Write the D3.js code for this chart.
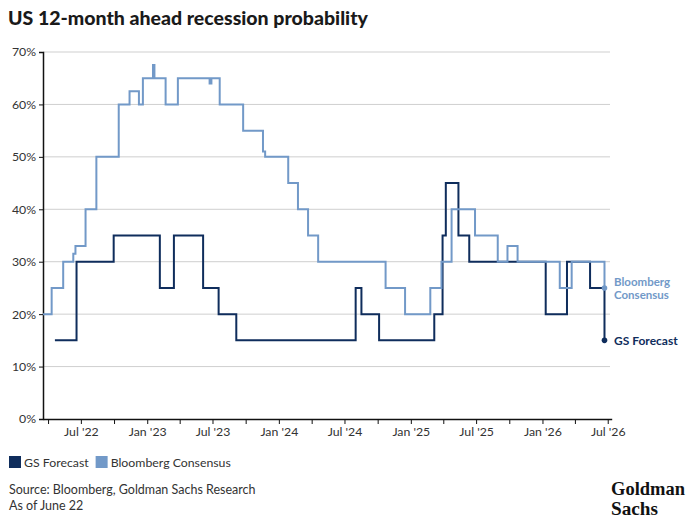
<!DOCTYPE html>
<html>
<head>
<meta charset="utf-8">
<script src="https://cdn.jsdelivr.net/npm/d3@7"></script>
<style>
  html, body { margin: 0; padding: 0; background: #fff; }
  svg { display: block; }
  text { font-family: Lato, "Open Sans", sans-serif; }
</style>
</head>
<body>
<svg id="chart" width="695" height="521"></svg>
<script>
// ---------- DATA ----------
const gsDates = ["2022-04-20","2022-06-19","2022-09-30","2023-02-05","2023-03-16","2023-06-05","2023-07-18","2023-09-05",
  "2024-08-01","2024-08-17","2024-10-05","2025-03-07","2025-03-30","2025-04-08","2025-05-13","2025-06-12",
  "2026-01-10","2026-03-10","2026-05-13","2026-06-22"];
const gsValues = [15,30,35,25,35,25,20,15,
  25,20,15,20,35,45,35,30,
  20,30,25,15];

const bbgDates = ["2022-03-18","2022-04-11","2022-05-13","2022-06-10","2022-06-16","2022-07-14","2022-08-13","2022-10-14",
  "2022-11-13","2022-12-09","2022-12-20","2023-01-17","2023-01-21","2023-02-21","2023-03-27","2023-06-23","2023-06-28",
  "2023-07-21","2023-09-24","2023-11-18","2023-11-24","2024-01-27","2024-02-23","2024-03-22","2024-04-19",
  "2024-10-23","2024-12-16","2025-02-24","2025-03-27","2025-04-24","2025-06-28","2025-08-30","2025-09-26",
  "2025-10-24","2026-02-18","2026-03-23","2026-06-22"];
const bbgValues = [20,25,30,31.5,33,40,50,60,
  62.5,60,65,67.5,65,60,65,64,65,
  60,55,51,50,45,40,35,30,
  25,20,25,30,40,35,30,33,
  30,25,30,25];

const yTicks = [0,10,20,30,40,50,60,70];
const seriesNames = ["GS Forecast","Bloomberg Consensus"];
const endLabels = [["GS Forecast"],["Bloomberg","Consensus"]];
const titleText = "US 12-month ahead recession probability";
const sourceLines = ["Source: Bloomberg, Goldman Sachs Research","As of June 22"];
const logoLines = ["Goldman","Sachs"];

// ---------- STYLE ----------
const colors = ["#0f2d5c", "#7299c8"];
const parse = d3.timeParse("%Y-%m-%d");

const svg = d3.select("#chart");
const x = d3.scaleTime()
  .domain([parse("2022-03-18"), parse("2026-07-12")])
  .range([43, 611.7]);
const y = d3.scaleLinear().domain([0,70]).range([419, 52]);

// title
svg.append("text").attr("x", 8).attr("y", 25)
  .attr("font-size", 19.5).attr("font-weight", 900).attr("fill", "#1a1a1a")
  .text(titleText);

// gridlines
svg.append("g").selectAll("line").data(yTicks.filter(d => d > 0)).join("line")
  .attr("x1", 43).attr("x2", 610)
  .attr("y1", d => y(d)).attr("y2", d => y(d))
  .attr("stroke", "#cfcfcf").attr("stroke-width", 1);

// y axis
const yAxis = d3.axisLeft(y).tickValues(yTicks).tickSize(4).tickFormat(d => d + "%");
const gy = svg.append("g").attr("transform", "translate(43,0)").call(yAxis);
gy.select(".domain").attr("stroke", "#111").attr("stroke-width", 1.5);
gy.selectAll(".tick line").attr("stroke", "#111");
gy.selectAll(".tick text").attr("font-size", 12.3).attr("fill", "#333").attr("x", -7);

// x axis
const quarterTicks = d3.timeMonth.every(3).range(parse("2022-04-01"), parse("2026-07-02"));
const fmt = d3.timeFormat("%b '%y");
const xAxis = d3.axisBottom(x).tickValues(quarterTicks).tickSize(5).tickSizeOuter(0)
  .tickFormat(d => (d.getMonth() === 0 || d.getMonth() === 6) ? fmt(d) : "");
const gx = svg.append("g").attr("transform", "translate(0,419)").call(xAxis);
gx.select(".domain").attr("stroke", "#111").attr("stroke-width", 1.5);
gx.selectAll(".tick line").attr("stroke", "#111");
gx.selectAll(".tick text").attr("font-size", 12.3).attr("fill", "#333").attr("y", 8);

// lines
const series = [
  gsDates.map((d,i) => ({date: parse(d), value: gsValues[i]})),
  bbgDates.map((d,i) => ({date: parse(d), value: bbgValues[i]}))
];
const line = d3.line().x(d => x(d.date)).y(d => y(d.value)).curve(d3.curveStepAfter);
series.forEach((s, i) => {
  svg.append("path").datum(s).attr("d", line)
    .attr("fill", "none").attr("stroke", colors[i]).attr("stroke-width", 2)
    .attr("stroke-linejoin", "miter");
  const last = s[s.length - 1];
  svg.append("circle").attr("cx", x(last.date)).attr("cy", y(last.value)).attr("r", 2.8)
    .attr("fill", colors[i]);
});

// end labels
const lastGs = series[0][series[0].length-1];
const lastBb = series[1][series[1].length-1];
svg.append("text").attr("x", 614).attr("y", y(lastGs.value) + 4.5)
  .attr("font-size", 12).attr("font-weight", 700).attr("fill", colors[0])
  .text(endLabels[0][0]);
endLabels[1].forEach((t, i) => {
  svg.append("text").attr("x", 614).attr("y", y(lastBb.value) - 2 + i * 13)
    .attr("font-size", 11.5).attr("font-weight", 700).attr("fill", colors[1]).text(t);
});

// legend
const lg = svg.append("g").attr("transform", "translate(9,456)");
let lx = 0;
seriesNames.forEach((n, i) => {
  lg.append("rect").attr("x", lx).attr("y", 0).attr("width", 12).attr("height", 12).attr("fill", colors[i]);
  const t = lg.append("text").attr("x", lx + 15).attr("y", 10.5).attr("font-size", 12.3).attr("fill", "#333").text(n);
  lx += 15 + t.node().getComputedTextLength() + 7;
});

// source
sourceLines.forEach((s, i) => {
  svg.append("text").attr("x", 9).attr("y", 494 + i * 16).attr("font-size", 12.5).attr("fill", "#333").text(s);
});

// logo (tall condensed wordmark)
logoLines.forEach((s, i) => {
  svg.append("g").attr("transform", `translate(611,${495 + i * 20}) scale(1,1.3)`)
    .append("text").attr("x", 0).attr("y", 0)
    .style("font-family", "'Liberation Serif', 'DejaVu Serif', serif")
    .attr("font-size", 15).attr("font-weight", 700).attr("fill", "#111")
    .attr("textLength", i ? 47 : 74).attr("lengthAdjust", "spacingAndGlyphs")
    .text(s);
});
</script>
</body>
</html>
